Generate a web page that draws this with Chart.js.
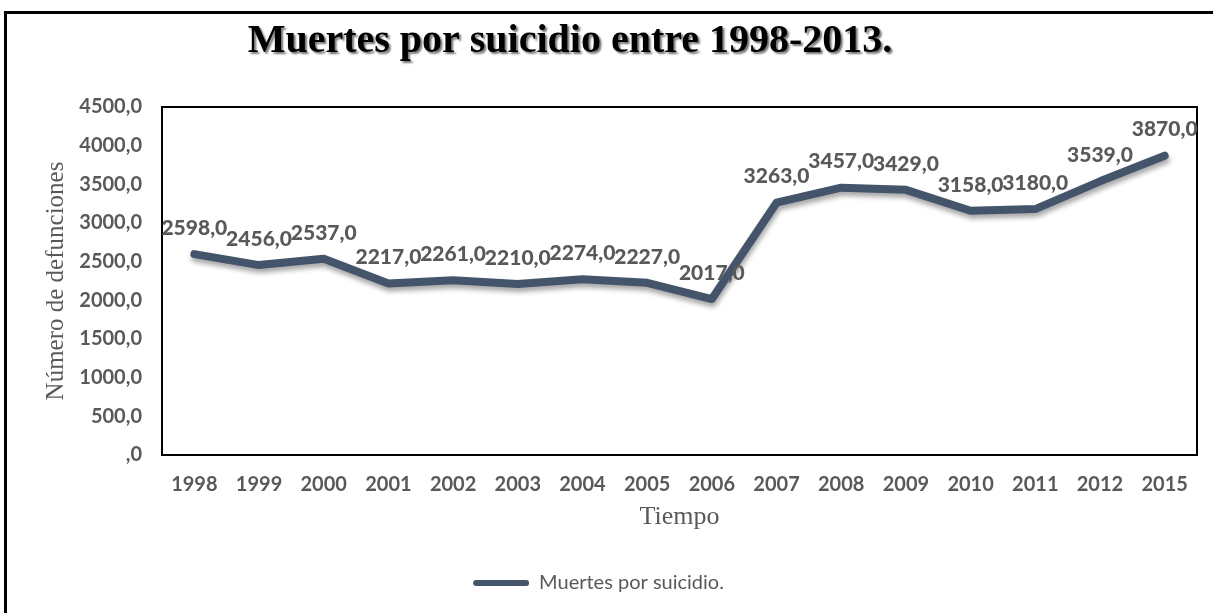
<!DOCTYPE html>
<html>
<head>
<meta charset="utf-8">
<script src="https://cdn.jsdelivr.net/npm/chart.js@4/dist/chart.umd.min.js"></script>
<style>
  html, body { margin: 0; padding: 0; background: #fff; overflow: hidden; }
  canvas { display: block; }
</style>
</head>
<body>
<canvas id="lineChart" width="1213" height="613"></canvas>
<script>
"use strict";

// data
var years = ['1998', '1999', '2000', '2001', '2002', '2003', '2004', '2005',
             '2006', '2007', '2008', '2009', '2010', '2011', '2012', '2015'];
var deaths = [2598, 2456, 2537, 2217, 2261, 2210, 2274, 2227,
              2017, 3263, 3457, 3429, 3158, 3180, 3539, 3870];
var yTicks = [0, 500, 1000, 1500, 2000, 2500, 3000, 3500, 4000, 4500];

var chartTitle = 'Muertes por suicidio entre 1998-2013.';
var seriesName = 'Muertes por suicidio.';
var lineColor = '#44546A';
var textGray = '#595959';

function fmt(v) {
    if (v === 0) {
        return ',0';
    }
    return v.toFixed(1).replace('.', ',');
}

/*
 * Outer frame: top edge and left edge
 */
var outerFramePlugin = {
    id: 'outerFrame',
    beforeDraw: function (chart) {
        var ctx = chart.ctx;
        ctx.save();
        ctx.strokeStyle = '#000';
        ctx.lineWidth = 3;
        ctx.lineCap = 'butt';
        ctx.beginPath();
        ctx.moveTo(5.5, 640);
        ctx.lineTo(5.5, 12.5);
        ctx.lineTo(1240, 12.5);
        ctx.stroke();
        ctx.restore();
    }
};

/*
 * Title drawn with a shadow, like the original
 */
var titlePlugin = {
    id: 'shadowTitle',
    afterDraw: function (chart) {
        var ctx = chart.ctx;
        ctx.save();
        ctx.font = 'bold 40px "Liberation Serif", "DejaVu Serif", serif';
        ctx.textAlign = 'center';
        ctx.textBaseline = 'middle';
        ctx.shadowColor = 'rgba(0,0,0,0.55)';
        ctx.shadowOffsetX = 2;
        ctx.shadowOffsetY = 2;
        ctx.shadowBlur = 2;
        ctx.fillStyle = '#000';
        ctx.fillText(chartTitle, 570, 42);
        ctx.restore();
    }
};

/*
 * Plot area frame
 */
var framePlugin = {
    id: 'areaFrame',
    beforeDatasetsDraw: function (chart) {
        var a = chart.chartArea;
        var ctx = chart.ctx;
        ctx.save();
        ctx.strokeStyle = '#000';
        ctx.lineWidth = 2;
        ctx.strokeRect(a.left, a.top, a.right - a.left, a.bottom - a.top);
        ctx.restore();
    }
};

/*
 * Soft shadow under the line
 */
var shadowPlugin = {
    id: 'lineShadow',
    beforeDatasetDraw: function (chart) {
        var ctx = chart.ctx;
        ctx.save();
        ctx.shadowColor = 'rgba(0,0,0,0.35)';
        ctx.shadowBlur = 5;
        ctx.shadowOffsetX = 1;
        ctx.shadowOffsetY = 4;
    },
    afterDatasetDraw: function (chart) {
        chart.ctx.restore();
    }
};

/*
 * Value labels above each point
 */
var labelPlugin = {
    id: 'valueLabels',
    afterDatasetsDraw: function (chart) {
        var ctx = chart.ctx;
        var meta = chart.getDatasetMeta(0);
        var data = chart.data.datasets[0].data;
        var i;
        ctx.save();
        ctx.font = '900 21px Lato, "Open Sans", sans-serif';
        ctx.fillStyle = textGray;
        ctx.textAlign = 'center';
        ctx.textBaseline = 'middle';
        for (i = 0; i < meta.data.length; i++) {
            ctx.fillText(fmt(data[i]), meta.data[i].x, meta.data[i].y - 26);
        }
        ctx.restore();
    }
};

var config = {
    type: 'line',
    data: {
        labels: years,
        datasets: [{
            label: seriesName,
            data: deaths,
            borderColor: lineColor,
            backgroundColor: lineColor,
            borderWidth: 8,
            borderCapStyle: 'round',
            borderJoinStyle: 'round',
            pointRadius: 0,
            pointHoverRadius: 0,
            tension: 0,
            fill: false
        }]
    },
    options: {
        responsive: false,
        animation: false,
        layout: {
            padding: { left: 0, right: 16, top: 107, bottom: 10 }
        },
        plugins: {
            title: { display: false },
            tooltip: { enabled: false },
            legend: {
                display: true,
                position: 'bottom',
                labels: {
                    boxWidth: 56,
                    boxHeight: 6,
                    padding: 10,
                    useBorderRadius: true,
                    borderRadius: 3,
                    color: textGray,
                    font: { family: 'Lato, "Open Sans", sans-serif', size: 20 },
                    generateLabels: function (chart) {
                        var items = Chart.defaults.plugins.legend.labels.generateLabels(chart);
                        items.forEach(function (it) {
                            it.lineWidth = 0;
                            it.fillStyle = lineColor;
                            it.borderRadius = 3;
                        });
                        return items;
                    }
                }
            }
        },
        scales: {
            x: {
                offset: true,
                grid: { display: false, drawTicks: false },
                border: { display: false },
                ticks: {
                    padding: 18,
                    color: textGray,
                    maxRotation: 0,
                    autoSkip: false,
                    font: { family: 'Lato, "Open Sans", sans-serif', size: 20, weight: 'bold' }
                },
                title: {
                    display: true,
                    text: 'Tiempo',
                    color: textGray,
                    padding: { top: 0, bottom: 30 },
                    font: { family: '"Liberation Serif", serif', size: 26 }
                },
                afterFit: function (s) { s.height = 108; }
            },
            y: {
                min: 0,
                max: 4500,
                afterBuildTicks: function (s) {
                    s.ticks = yTicks.map(function (v) { return { value: v }; });
                },
                grid: { display: false, drawTicks: false },
                border: { display: false },
                ticks: {
                    padding: 20,
                    color: textGray,
                    font: { family: 'Lato, "Open Sans", sans-serif', size: 20, weight: 'bold' },
                    callback: function (v) { return fmt(v); }
                },
                title: {
                    display: true,
                    text: 'Número de defunciones',
                    color: textGray,
                    padding: { top: 41, bottom: 0 },
                    font: { family: '"Liberation Serif", serif', size: 25 }
                },
                afterFit: function (s) { s.width = 162; }
            }
        }
    },
    plugins: [outerFramePlugin, framePlugin, shadowPlugin, labelPlugin, titlePlugin]
};

var chart = new Chart(document.getElementById('lineChart'), config);
</script>
</body>
</html>
